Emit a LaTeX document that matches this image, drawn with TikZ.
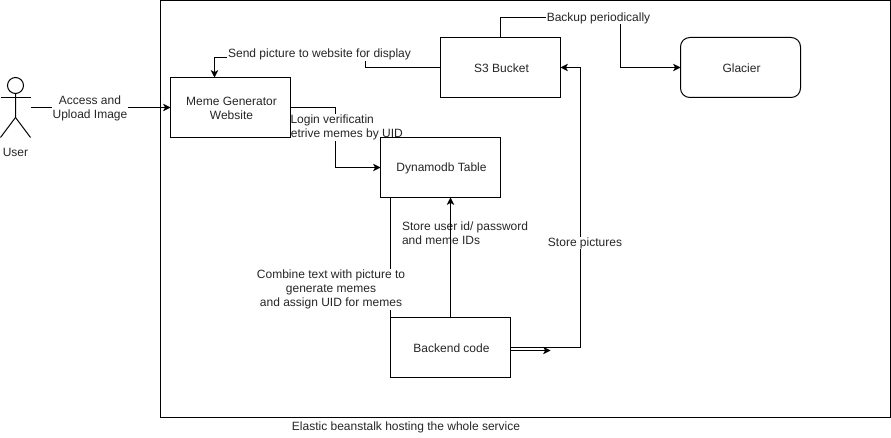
\documentclass[tikz,border=0pt]{standalone}
\usepackage{fontspec}
\setmainfont{Liberation Sans}
\usetikzlibrary{arrows.meta}
\pgfdeclarelayer{connlayer}
\pgfdeclarelayer{lbllayer}
\pgfsetlayers{connlayer,lbllayer,main}
\tikzset{
  x=0.75pt,y=-0.75pt,
  every node/.style={font=\fontsize{9}{10.5}\selectfont,text=black!85},
  boxtext/.style={align=center,inner sep=0pt,xshift=0.75pt,yshift=-0.75pt},
  box/.style={draw=black,fill=white,line width=0.75pt,minimum width=90pt,minimum height=45pt,inner sep=0pt,outer sep=0pt},
  roundbox/.style={box,rounded corners=7pt},
  conn/.style={draw=black,line width=0.75pt},
  arr/.style={conn,-{Stealth[length=5.5pt,width=5.5pt,inset=1.4pt]}},
  lbl/.style={fill=white,inner sep=0.5pt,outer sep=0pt,align=center},
  plainlbl/.style={inner sep=0pt,outer sep=0pt,align=left},
  container/.style={draw=black,line width=0.75pt,inner sep=0pt,outer sep=0pt}
}
\begin{document}
\begin{tikzpicture}
\useasboundingbox (0,0) rectangle (891,438);
% boxes (main layer, on top of connectors and labels)
\node[box,label={[boxtext]center:Meme Generator\\Website}] (meme) at (230.5,107.5) {};
\node[box,label={[boxtext]center:Dynamodb Table}] (dyn) at (440.5,167.5) {};
\node[box,label={[boxtext]center:S3 Bucket}] (s3) at (500.5,67.5) {};
\node[roundbox,label={[boxtext]center:Glacier}] (gla) at (740.5,67.5) {};
\node[box,label={[boxtext]center:Backend code}] (back) at (450.5,347.5) {};
% actor
\coordinate (hand) at (30.5,107.5);
\draw[conn] (15.5,85.5) circle [radius=6pt];
\draw[conn] (15.5,93.5) -- (15.5,117.5) -- (0.5,137.5);
\draw[conn] (15.5,117.5) -- (30.5,137.5);
\draw[conn] (0.5,97.5) -- (30.5,97.5);
\node[inner sep=0pt] (user) at (15.5,152.5) {User};
\node[inner sep=0pt] (l7) at (406,427.5) {Elastic beanstalk hosting the whole service};
% connectors
\begin{pgfonlayer}{connlayer}
\node[container,minimum width=547.5pt,minimum height=312.75pt,anchor=north west] (stack) at (160.5,0.5) {};
\node[plainlbl,anchor=west] (lstore) at (402,233) {Store user id/ password\\and meme IDs};
\draw[arr] (hand) -- (meme.west);
\draw[arr] (meme.east) -- (335.5,107.5) -- (335.5,167.5) -- (dyn.west);
\draw[arr] (s3.west) -- (365.5,67.5) -- (365.5,57.5) -- (214.5,57.5) -- (214.5,77.5);
\draw[arr] (s3.north) -- (500.5,17.5) -- (620.5,17.5) -- (620.5,67.5) -- (gla.west);
\draw[conn] (back.north west) -- (back.north west |- dyn.south);
\draw[arr] (back.north) -- (back.north |- dyn.south);
\draw[arr] (back.east) -- (580.5,347.5) -- (580.5,67.5) -- (s3.east);
\coordinate (back2) at (510.5,350.5);
\draw[arr] (back2) -- (550.5,350.5);
\end{pgfonlayer}
% labels
\begin{pgfonlayer}{lbllayer}
\node[lbl] (l1) at (90,108.5) {Access and\\Upload Image};
\node[lbl,align=left,anchor=north west] (l2) at (281.5,114) {\hspace*{6.25pt}Login verificatin\\Retrive memes by UID};
\node[lbl] (l3) at (319.5,54.5) {Send picture to website for display};
\node[lbl] (l4) at (598.5,18) {Backup periodically};
\node[lbl] (l5) at (331,289.5) {Combine text with picture to\\generate memes\\and assign UID for memes};
\node[lbl] (l6) at (585,243) {Store pictures};
\end{pgfonlayer}
\end{tikzpicture}
\end{document}
